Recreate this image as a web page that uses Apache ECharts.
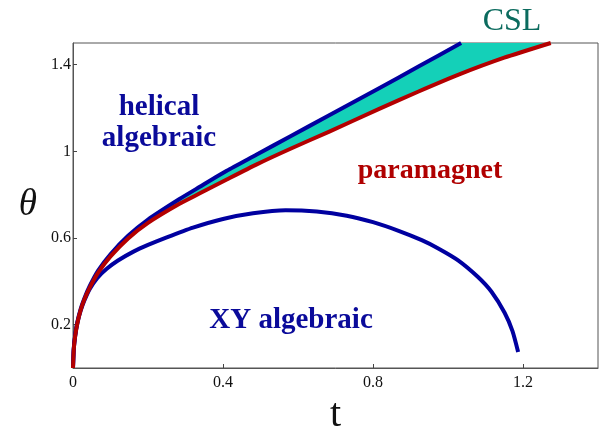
<!DOCTYPE html>
<html><head><meta charset="utf-8">
<script src="https://cdn.jsdelivr.net/npm/echarts@6/dist/echarts.min.js"></script>
<style>html,body{margin:0;padding:0;background:#fff}#c{width:601px;height:430px}</style>
</head><body><div id="c"></div>
<script>
// tick labels
const xTicks = [0, 0.4, 0.8, 1.2];
const yTicks = [0.2, 0.6, 1, 1.4];

// upper boundary of CSL (helical algebraic / CSL transition), [t, theta]
const helicalLine = [[0,0],[0.002,0.09],[0.006,0.155],[0.012,0.215],[0.02,0.27],[0.03,0.32],[0.045,0.38],[0.067,0.45],[0.1,0.525],[0.147,0.61],[0.2,0.685],[0.284,0.78],[0.337,0.835],[0.41,0.91],[0.49,0.985],[0.58,1.07],[0.682,1.165],[0.815,1.29],[0.92,1.39],[1.035,1.5]];

// lower boundary (paramagnet), [t, theta]
const paramagnetLine = [[0,0],[0.002,0.085],[0.006,0.15],[0.012,0.21],[0.02,0.265],[0.03,0.315],[0.045,0.372],[0.067,0.44],[0.1,0.515],[0.147,0.598],[0.2,0.67],[0.284,0.758],[0.337,0.805],[0.41,0.87],[0.49,0.94],[0.58,1.012],[0.682,1.09],[0.815,1.195],[0.92,1.275],[1.03,1.355],[1.15,1.432],[1.274,1.5]];

// XY algebraic dome, [t, theta]
const xyLine = [[0,0],[0.002,0.085],[0.006,0.15],[0.012,0.21],[0.02,0.262],[0.03,0.31],[0.045,0.366],[0.065,0.416],[0.09,0.458],[0.12,0.496],[0.16,0.536],[0.2,0.568],[0.25,0.603],[0.32,0.648],[0.4,0.688],[0.48,0.714],[0.567,0.728],[0.65,0.722],[0.73,0.703],[0.8,0.673],[0.87,0.632],[0.93,0.59],[0.974,0.552],[1.027,0.497],[1.08,0.42],[1.116,0.352],[1.151,0.255],[1.172,0.17],[1.187,0.074]];

const BLUE = '#0000a0', RED = '#b40000', TEAL = '#14d0b8';
const SERIF = 'Liberation Serif';

const chart = echarts.init(document.getElementById('c'), null, {renderer:'canvas'});
chart.setOption({
  animation: false,
  backgroundColor: '#fff',
  grid: {left:73, right:3, top:43, bottom:62, show:true, borderColor:'#555', borderWidth:1, containLabel:false, outerBoundsMode:'none'},
  xAxis: {
    type:'value', min:0, max:1.4,
    axisLine:{show:true, onZero:false, lineStyle:{color:'#555', width:1}},
    axisTick:{show:true, inside:true, length:4, customValues:xTicks, lineStyle:{color:'#444'}},
    axisLabel:{customValues:xTicks, color:'#111', fontFamily:SERIF, fontSize:16, margin:7},
    splitLine:{show:false},
    name:'t', nameLocation:'middle', nameGap:18,
    nameTextStyle:{fontFamily:SERIF, fontSize:40, color:'#111'}
  },
  yAxis: {
    type:'value', min:0, max:1.5,
    axisLine:{show:true, onZero:false, lineStyle:{color:'#555', width:1}},
    axisTick:{show:true, inside:true, length:4, customValues:yTicks, lineStyle:{color:'#444'}},
    axisLabel:{customValues:yTicks, color:'#111', fontFamily:SERIF, fontSize:16, margin:2},
    splitLine:{show:false},
    name:'θ', nameLocation:'middle', nameGap:36, nameRotate:0,
    nameTextStyle:{fontFamily:SERIF, fontStyle:'italic', fontSize:37, color:'#111'}
  },
  series: [
    {
      type:'custom', silent:true, z:1, clip:true,
      data:[[0,0]],
      renderItem:function(params, api){
        const pts = helicalLine.map(p => api.coord(p))
          .concat(paramagnetLine.slice().reverse().map(p => api.coord(p)));
        return {type:'polygon', shape:{points:pts, smooth:0}, style:{fill:TEAL}};
      }
    },
    {type:'line', data:helicalLine, showSymbol:false, smooth:0.2, z:3,
     lineStyle:{color:BLUE, width:4, join:'round'}},
    {type:'line', data:xyLine, showSymbol:false, smooth:0.2, z:3,
     lineStyle:{color:BLUE, width:4, join:'round'}},
    {type:'line', data:paramagnetLine, showSymbol:false, smooth:0.2, z:4,
     lineStyle:{color:RED, width:4, join:'round'}}
  ],
  graphic: [
    {type:'text', z:10, style:{text:'helical', x:159, y:108, align:'center', verticalAlign:'middle', fontFamily:SERIF, fontWeight:'bold', fontSize:29, fill:'#0a0a9a'}},
    {type:'text', z:10, style:{text:'algebraic', x:159, y:139, align:'center', verticalAlign:'middle', fontFamily:SERIF, fontWeight:'bold', fontSize:29, fill:'#0a0a9a'}},
    {type:'text', z:10, style:{text:'paramagnet', x:430, y:171, align:'center', verticalAlign:'middle', fontFamily:SERIF, fontWeight:'bold', fontSize:28, fill:'#b00000'}},
    {type:'text', z:10, style:{text:'XY algebraic', x:291, y:321, align:'center', verticalAlign:'middle', fontFamily:SERIF, fontWeight:'bold', fontSize:29, fill:'#0a0a9a'}},
    {type:'text', z:10, style:{text:'CSL', x:512, y:22, align:'center', verticalAlign:'middle', fontFamily:SERIF, fontSize:32, fill:'#0b6b5e'}}
  ]
});
</script>
</body></html>
